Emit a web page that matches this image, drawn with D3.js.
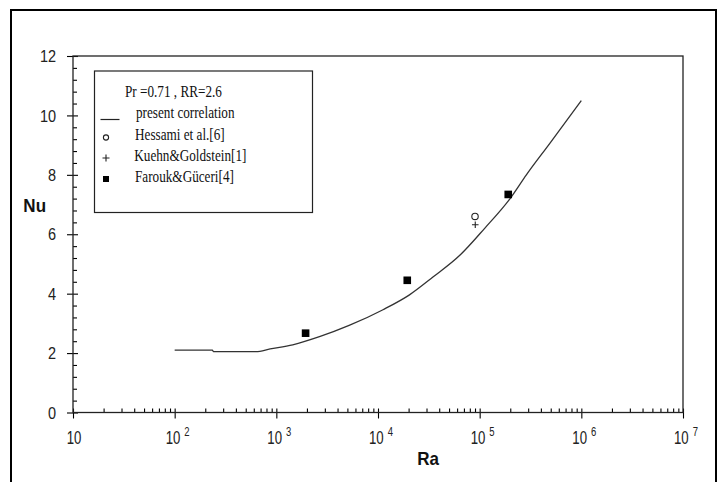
<!DOCTYPE html>
<html>
<head>
<meta charset="utf-8">
<script src="https://cdn.jsdelivr.net/npm/d3@7/dist/d3.min.js"></script>
<style>
  html, body { margin: 0; padding: 0; background: #fff; }
  svg { display: block; }
</style>
</head>
<body>
<svg id="chart" width="721" height="482"></svg>
<script>
// ---------------- DATA ----------------
const curveRa = [100, 235, 240, 630, 870, 1450, 2700, 5200, 11200, 20400, 34700, 64600, 112000, 200000, 288000, 490000, 1000000];
const curveNu = [2.10, 2.10, 2.05, 2.05, 2.14, 2.28, 2.56, 2.93, 3.46, 3.96, 4.56, 5.31, 6.20, 7.21, 8.00, 9.06, 10.50];

const hessamiRa = [90000];
const hessamiNu = [6.60];

const kuehnRa = [90500];
const kuehnNu = [6.32];

const faroukRa = [1940, 19400, 191000];
const faroukNu = [2.67, 4.45, 7.34];

const xMajorExp = [1, 2, 3, 4, 5, 6, 7];
const yMajorTicks = [0, 2, 4, 6, 8, 10, 12];

const legendTitle = "Pr =0.71 , RR=2.6";
const legendLabels = ["present correlation", "Hessami et al.[6]", "Kuehn&Goldstein[1]", "Farouk&Güceri[4]"];
const xTitle = "Ra";
const yTitle = "Nu";

// ---------------- LAYOUT ----------------
const svg = d3.select("#chart");
const L = 73, R = 683, T = 56, B = 412.5;
const x = d3.scaleLog().domain([10, 1e7]).range([L, R]);
const y = d3.scaleLinear().domain([0, 12]).range([B, T]);

// outer frame
svg.append("rect").attr("x", 11).attr("y", 10).attr("width", 705).attr("height", 490)
  .attr("fill", "none").attr("stroke", "#000").attr("stroke-width", 2);

// minor tick values
const xMinor = [];
for (let e = 1; e < 7; e++) for (let m = 2; m <= 9; m++) xMinor.push(m * Math.pow(10, e));
const yMinor = [];
for (let v = 0; v <= 12.001; v += 0.4) {
  const r = Math.round(v * 10) / 10;
  if (Math.abs(r / 2 - Math.round(r / 2)) > 1e-6) yMinor.push(r);
}

// X axis minor (inside, up)
const gxMinor = svg.append("g").attr("transform", `translate(0,${B})`)
  .call(d3.axisBottom(x).tickValues(xMinor).tickSizeInner(-4).tickSizeOuter(0).tickFormat(""));
// X axis major (crossing)
const gxMajor = svg.append("g").attr("transform", `translate(0,${B})`)
  .call(d3.axisBottom(x).tickValues(xMajorExp.map(e => Math.pow(10, e))).tickSizeInner(6).tickSizeOuter(0).tickFormat(""));
gxMajor.selectAll(".tick line").attr("y1", -4);

// Y axis minor (inside)
const gyMinor = svg.append("g").attr("transform", `translate(${L},0)`)
  .call(d3.axisLeft(y).tickValues(yMinor).tickSizeInner(-4).tickSizeOuter(0).tickFormat(""));
// Y axis major (crossing)
const gyMajor = svg.append("g").attr("transform", `translate(${L},0)`)
  .call(d3.axisLeft(y).tickValues(yMajorTicks).tickSizeInner(6).tickSizeOuter(0).tickFormat(""));
gyMajor.selectAll(".tick line").attr("x1", 5);

[gxMinor, gxMajor, gyMinor, gyMajor].forEach(g => {
  g.select(".domain").remove();
  g.selectAll(".tick line").attr("stroke", "#000").attr("stroke-width", 1.1);
});

// plot box
svg.append("rect").attr("x", L).attr("y", T).attr("width", R - L).attr("height", B - T)
  .attr("fill", "none").attr("stroke", "#222").attr("stroke-width", 1.3);

// helper for vertically stretched text
function stretchedText(px, py, k) {
  return svg.append("g").attr("transform", `translate(${px},${py}) scale(1,${k})`).append("text");
}

// Y tick labels
yMajorTicks.forEach(v => {
  stretchedText(56, y(v) + 6.2, 1.2)
    .attr("text-anchor", "end")
    .attr("font-family", "Liberation Sans, Arial, sans-serif")
    .attr("font-size", 14.5)
    .attr("fill", "#222")
    .text(v);
});

// X tick labels
xMajorExp.forEach(e => {
  const t = stretchedText(x(Math.pow(10, e)) + (e === 1 ? 1 : 3), 444.3, 1.33)
    .attr("text-anchor", "middle")
    .attr("font-family", "Liberation Sans, Arial, sans-serif")
    .attr("font-size", 13.2)
    .attr("fill", "#222");
  t.append("tspan").text("10");
  if (e > 1) {
    t.append("tspan").attr("dx", 4).attr("dy", -6).attr("font-size", 9.5).text(e);
  }
});

// Axis titles
stretchedText(428, 465, 1.1)
  .attr("text-anchor", "middle")
  .attr("font-family", "Liberation Sans, Arial, sans-serif")
  .attr("font-weight", "bold").attr("font-size", 17).attr("fill", "#111")
  .text(xTitle);
stretchedText(34.7, 211.5, 1.1)
  .attr("text-anchor", "middle")
  .attr("font-family", "Liberation Sans, Arial, sans-serif")
  .attr("font-weight", "bold").attr("font-size", 17).attr("fill", "#111")
  .text(yTitle);

// Curve
const curveData = curveRa.map((r, i) => [r, curveNu[i]]);
svg.append("path")
  .datum(curveData)
  .attr("fill", "none").attr("stroke", "#333").attr("stroke-width", 1.3)
  .attr("d", d3.line().curve(d3.curveMonotoneX).x(d => x(d[0])).y(d => y(d[1])));

// Hessami circles
svg.selectAll(".hes").data(hessamiRa.map((r, i) => [r, hessamiNu[i]])).enter()
  .append("circle").attr("cx", d => x(d[0])).attr("cy", d => y(d[1])).attr("r", 3.2)
  .attr("fill", "none").attr("stroke", "#222").attr("stroke-width", 1.1);

// Kuehn plus
svg.selectAll(".kue").data(kuehnRa.map((r, i) => [r, kuehnNu[i]])).enter()
  .append("path")
  .attr("d", d => { const cx = x(d[0]), cy = y(d[1]); return `M${cx - 3.3},${cy}H${cx + 3.3}M${cx},${cy - 3.3}V${cy + 3.3}`; })
  .attr("stroke", "#222").attr("stroke-width", 1.1).attr("fill", "none");

// Farouk squares
svg.selectAll(".far").data(faroukRa.map((r, i) => [r, faroukNu[i]])).enter()
  .append("rect")
  .attr("x", d => x(d[0]) - 3.8).attr("y", d => y(d[1]) - 3.8)
  .attr("width", 7.6).attr("height", 7.6).attr("fill", "#000");

// Legend
svg.append("rect").attr("x", 94.5).attr("y", 71).attr("width", 218).attr("height", 141.5)
  .attr("fill", "#fff").attr("stroke", "#222").attr("stroke-width", 1.2);

const legFont = "Liberation Serif, Times New Roman, serif";
const legBase = [118, 140, 161, 182];
const legTextX = [136, 135, 134.3, 135];

stretchedText(125, 97.3, 1.3)
  .attr("font-family", legFont).attr("font-size", 13.2).attr("fill", "#111")
  .text(legendTitle);

legendLabels.forEach((lab, i) => {
  stretchedText(legTextX[i], legBase[i], 1.3)
    .attr("font-family", legFont).attr("font-size", 13.2).attr("fill", "#111")
    .text(lab);
});

// legend symbols
svg.append("line").attr("x1", 100.5).attr("x2", 119.5).attr("y1", 119.5).attr("y2", 119.5)
  .attr("stroke", "#222").attr("stroke-width", 1.2);
svg.append("circle").attr("cx", 106).attr("cy", 137.5).attr("r", 2.6)
  .attr("fill", "none").attr("stroke", "#222").attr("stroke-width", 1.1);
svg.append("path").attr("d", "M102.5,158H109.5M106,154.5V161.5")
  .attr("stroke", "#222").attr("stroke-width", 1.1);
svg.append("rect").attr("x", 103).attr("y", 176).attr("width", 6).attr("height", 6).attr("fill", "#000");
</script>
</body>
</html>
